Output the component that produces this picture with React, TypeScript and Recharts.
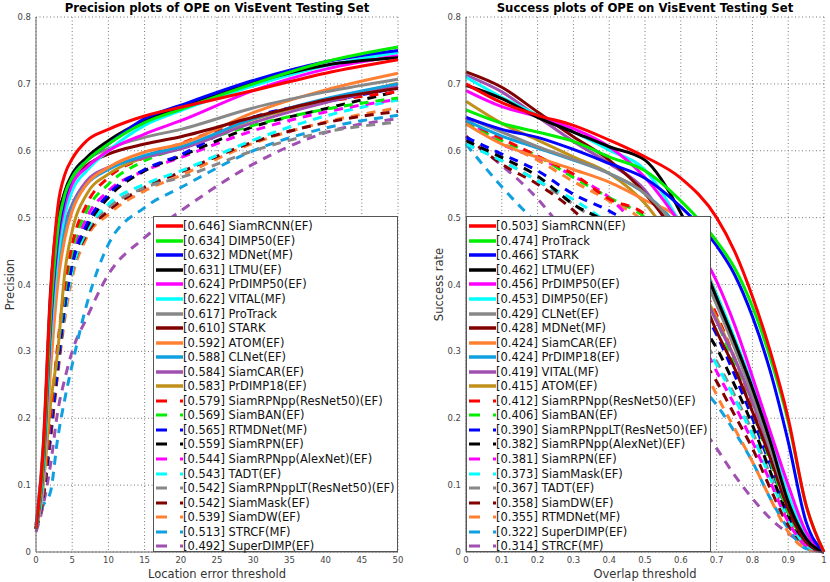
import { LineChart, Line, XAxis, YAxis, CartesianGrid, Label } from "recharts";

// colour cycle used by the benchmark toolkit: 12 solid, then the same 11 dashed
const palette = [
  "#ff0000", "#00ee00", "#0000ff", "#000000", "#ff00ff", "#00ffff",
  "#888888", "#800000", "#ff8033", "#10a0e0", "#a050b0", "#c0901a",
];

const yTicks = [0, 0.1, 0.2, 0.3, 0.4, 0.5, 0.6, 0.7, 0.8];

// ---- precision plot ----
const precisionThresholds = [0, 1, 2, 3, 4, 5, 7, 10, 15, 20, 30, 40, 50];
const precisionTicks = [0, 5, 10, 15, 20, 25, 30, 35, 40, 45, 50];
const precisionNames = [
  "SiamRCNN(EF)", "DIMP50(EF)", "MDNet(MF)", "LTMU(EF)", "PrDIMP50(EF)", "VITAL(MF)",
  "ProTrack", "STARK", "ATOM(EF)", "CLNet(EF)", "SiamCAR(EF)", "PrDIMP18(EF)",
  "SiamRPNpp(ResNet50)(EF)", "SiamBAN(EF)", "RTMDNet(MF)", "SiamRPN(EF)",
  "SiamRPNpp(AlexNet)(EF)", "TADT(EF)", "SiamRPNppLT(ResNet50)(EF)", "SiamMask(EF)",
  "SiamDW(EF)", "STRCF(MF)", "SuperDIMP(EF)",
];
const precisionScores = [
  0.646, 0.634, 0.632, 0.631, 0.624, 0.622, 0.617, 0.61, 0.592, 0.588, 0.584, 0.583,
  0.579, 0.569, 0.565, 0.559, 0.544, 0.543, 0.542, 0.542, 0.539, 0.513, 0.492,
];
const precisionCurves = [
  [0.035, 0.15, 0.38, 0.515, 0.565, 0.588, 0.615, 0.632, 0.652, 0.665, 0.69, 0.716, 0.736],
  [0.035, 0.13, 0.35, 0.48, 0.535, 0.56, 0.585, 0.61, 0.642, 0.662, 0.7, 0.733, 0.755],
  [0.035, 0.13, 0.34, 0.47, 0.53, 0.56, 0.585, 0.61, 0.648, 0.668, 0.705, 0.733, 0.75],
  [0.035, 0.14, 0.36, 0.49, 0.54, 0.565, 0.59, 0.615, 0.645, 0.665, 0.702, 0.728, 0.739],
  [0.035, 0.12, 0.33, 0.46, 0.52, 0.55, 0.575, 0.6, 0.625, 0.645, 0.69, 0.722, 0.742],
  [0.035, 0.11, 0.31, 0.44, 0.505, 0.54, 0.57, 0.6, 0.638, 0.66, 0.697, 0.727, 0.747],
  [0.04, 0.15, 0.37, 0.49, 0.53, 0.555, 0.585, 0.603, 0.62, 0.632, 0.664, 0.688, 0.707],
  [0.04, 0.16, 0.39, 0.5, 0.535, 0.555, 0.578, 0.595, 0.61, 0.621, 0.65, 0.676, 0.693],
  [0.035, 0.1, 0.27, 0.4, 0.47, 0.51, 0.55, 0.575, 0.598, 0.61, 0.657, 0.691, 0.716],
  [0.035, 0.11, 0.29, 0.42, 0.48, 0.515, 0.55, 0.572, 0.593, 0.606, 0.648, 0.678, 0.7],
  [0.035, 0.11, 0.3, 0.43, 0.49, 0.52, 0.555, 0.575, 0.59, 0.603, 0.642, 0.672, 0.697],
  [0.035, 0.1, 0.22, 0.3, 0.42, 0.48, 0.535, 0.565, 0.59, 0.604, 0.647, 0.675, 0.701],
  [0.035, 0.09, 0.2, 0.31, 0.4, 0.46, 0.52, 0.56, 0.59, 0.611, 0.648, 0.673, 0.688],
  [0.035, 0.09, 0.2, 0.3, 0.39, 0.45, 0.51, 0.55, 0.585, 0.604, 0.638, 0.662, 0.679],
  [0.035, 0.085, 0.18, 0.28, 0.37, 0.43, 0.49, 0.535, 0.572, 0.594, 0.65, 0.673, 0.694],
  [0.035, 0.085, 0.18, 0.28, 0.37, 0.43, 0.485, 0.53, 0.57, 0.592, 0.636, 0.663, 0.689],
  [0.035, 0.085, 0.19, 0.29, 0.38, 0.44, 0.5, 0.54, 0.57, 0.59, 0.63, 0.658, 0.677],
  [0.035, 0.085, 0.18, 0.28, 0.36, 0.42, 0.48, 0.52, 0.55, 0.57, 0.616, 0.652, 0.676],
  [0.035, 0.085, 0.18, 0.28, 0.37, 0.43, 0.48, 0.515, 0.545, 0.56, 0.6, 0.628, 0.643],
  [0.035, 0.08, 0.17, 0.27, 0.36, 0.42, 0.475, 0.51, 0.545, 0.568, 0.613, 0.642, 0.659],
  [0.035, 0.08, 0.17, 0.265, 0.35, 0.41, 0.47, 0.505, 0.54, 0.563, 0.611, 0.643, 0.664],
  [0.04, 0.07, 0.09, 0.17, 0.23, 0.28, 0.37, 0.46, 0.515, 0.545, 0.6, 0.634, 0.653],
  [0.03, 0.07, 0.13, 0.21, 0.26, 0.3, 0.35, 0.415, 0.47, 0.51, 0.58, 0.627, 0.648],
];

// ---- success plot ----
const overlapThresholds = [0, 0.1, 0.2, 0.3, 0.4, 0.5, 0.6, 0.7, 0.75, 0.8, 0.85, 0.9, 0.95, 1];
const overlapTicks = [0, 0.1, 0.2, 0.3, 0.4, 0.5, 0.6, 0.7, 0.8, 0.9, 1];
const successNames = [
  "SiamRCNN(EF)", "ProTrack", "STARK", "LTMU(EF)", "PrDIMP50(EF)", "DIMP50(EF)",
  "CLNet(EF)", "MDNet(MF)", "SiamCAR(EF)", "PrDIMP18(EF)", "VITAL(MF)", "ATOM(EF)",
  "SiamRPNpp(ResNet50)(EF)", "SiamBAN(EF)", "SiamRPNppLT(ResNet50)(EF)",
  "SiamRPNpp(AlexNet)(EF)", "SiamRPN(EF)", "SiamMask(EF)", "TADT(EF)", "SiamDW(EF)",
  "RTMDNet(MF)", "SuperDIMP(EF)", "STRCF(MF)",
];
const successScores = [
  0.503, 0.474, 0.466, 0.462, 0.456, 0.453, 0.429, 0.428, 0.424, 0.424, 0.419, 0.415,
  0.412, 0.406, 0.39, 0.382, 0.381, 0.373, 0.367, 0.358, 0.355, 0.322, 0.314,
];
const successCurves = [
  [0.7, 0.672, 0.653, 0.638, 0.616, 0.591, 0.559, 0.5, 0.45, 0.382, 0.3, 0.2, 0.07, 0],
  [0.661, 0.641, 0.628, 0.614, 0.591, 0.57, 0.525, 0.465, 0.425, 0.367, 0.29, 0.195, 0.07, 0],
  [0.65, 0.632, 0.62, 0.602, 0.581, 0.559, 0.516, 0.458, 0.415, 0.352, 0.27, 0.165, 0.045, 0],
  [0.698, 0.678, 0.65, 0.628, 0.606, 0.586, 0.507, 0.38, 0.315, 0.245, 0.165, 0.075, 0.02, 0],
  [0.69, 0.666, 0.651, 0.633, 0.606, 0.56, 0.49, 0.405, 0.34, 0.262, 0.18, 0.1, 0.03, 0],
  [0.71, 0.68, 0.653, 0.628, 0.601, 0.571, 0.49, 0.385, 0.32, 0.25, 0.17, 0.085, 0.025, 0],
  [0.65, 0.628, 0.606, 0.587, 0.566, 0.536, 0.475, 0.37, 0.305, 0.235, 0.155, 0.075, 0.02, 0],
  [0.718, 0.695, 0.658, 0.621, 0.586, 0.536, 0.46, 0.33, 0.275, 0.21, 0.14, 0.065, 0.015, 0],
  [0.64, 0.61, 0.59, 0.572, 0.553, 0.526, 0.495, 0.385, 0.315, 0.24, 0.16, 0.075, 0.02, 0],
  [0.645, 0.622, 0.604, 0.586, 0.566, 0.536, 0.48, 0.38, 0.315, 0.24, 0.16, 0.075, 0.02, 0],
  [0.713, 0.688, 0.651, 0.614, 0.581, 0.541, 0.455, 0.345, 0.29, 0.225, 0.15, 0.07, 0.02, 0],
  [0.674, 0.641, 0.616, 0.591, 0.566, 0.521, 0.445, 0.35, 0.29, 0.225, 0.15, 0.07, 0.02, 0],
  [0.645, 0.618, 0.592, 0.565, 0.528, 0.505, 0.44, 0.355, 0.29, 0.222, 0.145, 0.065, 0.015, 0],
  [0.64, 0.615, 0.592, 0.56, 0.53, 0.5, 0.435, 0.345, 0.28, 0.21, 0.135, 0.06, 0.015, 0],
  [0.62, 0.595, 0.57, 0.535, 0.51, 0.475, 0.41, 0.325, 0.265, 0.2, 0.13, 0.06, 0.015, 0],
  [0.615, 0.59, 0.562, 0.52, 0.49, 0.44, 0.375, 0.305, 0.25, 0.19, 0.12, 0.055, 0.015, 0],
  [0.65, 0.61, 0.59, 0.562, 0.53, 0.47, 0.38, 0.27, 0.22, 0.165, 0.105, 0.045, 0.01, 0],
  [0.61, 0.585, 0.555, 0.527, 0.49, 0.44, 0.37, 0.28, 0.23, 0.175, 0.11, 0.05, 0.01, 0],
  [0.61, 0.585, 0.555, 0.52, 0.48, 0.43, 0.365, 0.285, 0.235, 0.18, 0.115, 0.05, 0.01, 0],
  [0.622, 0.58, 0.55, 0.511, 0.455, 0.39, 0.33, 0.255, 0.205, 0.155, 0.095, 0.04, 0.01, 0],
  [0.648, 0.612, 0.586, 0.554, 0.525, 0.49, 0.36, 0.235, 0.185, 0.135, 0.08, 0.03, 0.005, 0],
  [0.61, 0.546, 0.49, 0.436, 0.38, 0.33, 0.275, 0.22, 0.18, 0.135, 0.08, 0.035, 0.005, 0],
  [0.618, 0.578, 0.528, 0.46, 0.385, 0.31, 0.23, 0.155, 0.115, 0.08, 0.05, 0.028, 0.01, 0],
];

const frame = "#666";
const font = "DejaVu Sans, sans-serif";

function toRows(xs: number[], curves: number[][]) {
  return xs.map((x, i) => {
    const row: Record<string, number> = { x };
    curves.forEach((c, k) => {
      row["s" + k] = c[i];
    });
    return row;
  });
}

const styleOf = (k: number) => ({
  color: palette[k % 12],
  dashed: k >= 12,
});

function YTitle(x: number, text: string) {
  return (props: any) => {
    const vb = props.viewBox;
    const cy = vb.y + vb.height / 2;
    return (
      <text x={x} y={cy} transform={`rotate(-90 ${x} ${cy})`} textAnchor="middle"
        dominantBaseline="central" fontSize={11.5} fill="#333" fontFamily={font}>
        {text}
      </text>
    );
  };
}

function XTitle(y: number, text: string) {
  return (props: any) => {
    const vb = props.viewBox;
    return (
      <text x={vb.x + vb.width / 2} y={y} textAnchor="middle" fontSize={11.5} fill="#333"
        fontFamily={font}>
        {text}
      </text>
    );
  };
}

interface PanelProps {
  left: number;
  title: string;
  xLabel: string;
  yLabel: string;
  yLabelX: number;
  xs: number[];
  xTicks: number[];
  xMax: number;
  names: string[];
  scores: number[];
  curves: number[][];
  plotLeft: number;
  plotRight: number;
  legendLeft: number;
}

function Panel(p: PanelProps) {
  const rows = toRows(p.xs, p.curves);
  const W = 415;
  const order = p.curves.map((_, k) => k).reverse();
  return (
    <div style={{ position: "absolute", left: p.left, top: 0, width: W, height: 582 }}>
      <div style={{
        position: "absolute", left: p.plotLeft - 10, width: p.plotRight - p.plotLeft + 20, top: 1,
        textAlign: "center", fontSize: 11.7, fontWeight: "bold", fontFamily: font, color: "#000",
        whiteSpace: "nowrap",
      }}>
        {p.title}
      </div>
      <LineChart width={W} height={582} data={rows}
        margin={{ top: 17, right: W - p.plotRight, bottom: 0, left: p.plotLeft - 28 }}>
        <CartesianGrid stroke="#777" strokeDasharray="1 2.5" />
        <XAxis dataKey="x" type="number" domain={[0, p.xMax]} ticks={p.xTicks} height={30}
          tickLine={false} tickSize={3} tickMargin={2} axisLine={{ stroke: frame }}
          tick={{ fontSize: 8.5, fill: "#444", fontFamily: font }}>
          <Label content={XTitle(578, p.xLabel)} />
        </XAxis>
        <XAxis xAxisId="top" orientation="top" dataKey="x" type="number" domain={[0, p.xMax]}
          height={0} tick={false} tickLine={false} axisLine={{ stroke: frame }} />
        <YAxis type="number" domain={[0, 0.8]} ticks={yTicks} width={28} tickLine={false}
          tickSize={3} tickMargin={2} axisLine={{ stroke: frame }}
          tick={{ fontSize: 8.5, fill: "#444", fontFamily: font }}>
          <Label content={YTitle(p.yLabelX, p.yLabel)} />
        </YAxis>
        <YAxis yAxisId="right" orientation="right" type="number" domain={[0, 0.8]} width={0}
          tick={false} tickLine={false} axisLine={{ stroke: frame }} />
        {order.map((k) => {
          const s = styleOf(k);
          return (
            <Line key={k} type="monotone" dataKey={"s" + k} stroke={s.color} strokeWidth={3}
              strokeDasharray={s.dashed ? "9 7" : undefined} dot={false}
              isAnimationActive={false} />
          );
        })}
      </LineChart>
      <div style={{
        position: "absolute", left: p.legendLeft, top: 216, width: 245,
        height: 336, boxSizing: "border-box", border: "1px solid #555", background: "#fff",
        paddingTop: 2, fontFamily: font,
      }}>
        {p.names.map((n, k) => {
          const s = styleOf(k);
          return (
            <div key={n} style={{ height: 14.55, display: "flex", alignItems: "center" }}>
              <svg width={28} height={6} style={{ flex: "none", marginLeft: 1 }}>
                <line x1={1} y1={3} x2={28} y2={3} stroke={s.color}
                  strokeWidth={s.dashed ? 3 : 3.5}
                  strokeDasharray={s.dashed ? "11 13" : undefined} />
              </svg>
              <span style={{ fontSize: 11.5, color: "#111", whiteSpace: "nowrap", lineHeight: "14px" }}>
                [{p.scores[k].toFixed(3)}] {n}
              </span>
            </div>
          );
        })}
      </div>
    </div>
  );
}

export default function App() {
  return (
    <div style={{ position: "absolute", left: 0, top: 0, width: 830, height: 582, background: "#fff" }}>
      <Panel left={0} title="Precision plots of OPE on VisEvent Testing Set"
        xLabel="Location error threshold" yLabel="Precision" yLabelX={10}
        xs={precisionThresholds} xTicks={precisionTicks} xMax={50}
        names={precisionNames} scores={precisionScores} curves={precisionCurves}
        plotLeft={36} plotRight={398} legendLeft={153} />
      <Panel left={415} title="Success plots of OPE on VisEvent Testing Set"
        xLabel="Overlap threshold" yLabel="Success rate" yLabelX={24}
        xs={overlapThresholds} xTicks={overlapTicks} xMax={1}
        names={successNames} scores={successScores} curves={successCurves}
        plotLeft={51} plotRight={409} legendLeft={51} />
    </div>
  );
}
